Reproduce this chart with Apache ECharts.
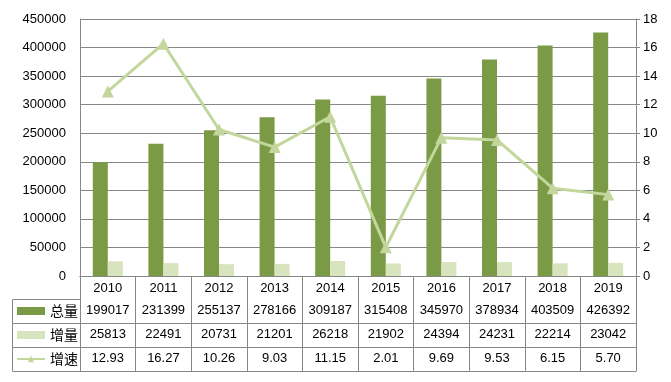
<!DOCTYPE html>
<html><head><meta charset="utf-8">
<script src="https://cdn.jsdelivr.net/npm/echarts@6/dist/echarts.min.js"></script>
<style>html,body{margin:0;padding:0;background:#fff}#c{width:671px;height:382px}</style>
</head><body><div id="c"></div>
<script>
var years = ['2010','2011','2012','2013','2014','2015','2016','2017','2018','2019'];
var total = [199017,231399,255137,278166,309187,315408,345970,378934,403509,426392];
var increase = [25813,22491,20731,21201,26218,21902,24394,24231,22214,23042];
var growth = [12.93,16.27,10.26,9.03,11.15,2.01,9.69,9.53,6.15,5.70];
var growthLabels = ['12.93','16.27','10.26','9.03','11.15','2.01','9.69','9.53','6.15','5.70'];
var leftTicks = [0,50000,100000,150000,200000,250000,300000,350000,400000,450000];
var rightTicks = [0,2,4,6,8,10,12,14,16,18];

var gridC = '#878787';
var numFont = 'Liberation Sans';
var cjk = 'Noto Sans CJK SC';
var chart = echarts.init(document.getElementById('c'));
function tableAxis(offset, arr, showLabel){
  return {
    type:'category', data: years, position:'bottom', offset: offset, gridIndex:0,
    axisLine:{show:true, lineStyle:{color:gridC, width:1}},
    axisTick:{show:false},
    axisLabel:{show:showLabel, interval:0, hideOverlap:false, margin:5, color:'#000', fontSize:13, fontFamily:numFont,
      formatter:function(v,i){return arr ? String(arr[i]) : v;}},
    splitLine:{show:false}
  };
}
var xAxes = [
  {type:'category', data: years, position:'bottom', offset:0,
   axisLine:{show:true, lineStyle:{color:gridC}},
   axisTick:{show:true, length:95, interval:0, lineStyle:{color:gridC}},
   axisLabel:{interval:0, margin:6, color:'#000', fontSize:13, fontFamily:numFont},
   splitLine:{show:false}},
  tableAxis(23, total, true),
  tableAxis(47, increase, true),
  tableAxis(71, growthLabels, true),
  tableAxis(95, null, false)
];
var option = {
  animation:false,
  backgroundColor:'#fff',
  grid:{left:80, right:35, top:19, bottom:106, containLabel:false},
  legend:{
    orient:'vertical', left:16, top:304, padding:0, itemWidth:28, itemHeight:8, itemGap:10,
    textStyle:{fontFamily:cjk, fontSize:14, color:'#000'},
    data:[{name:'总量', icon:'rect'},{name:'增量', icon:'rect'},{name:'增速'}]
  },
  xAxis: xAxes,
  yAxis:[
    {type:'value', min:0, max:450000, interval:50000, position:'left',
     axisLine:{show:true, lineStyle:{color:gridC}}, axisTick:{show:false},
     axisLabel:{margin:14, color:'#000', fontSize:13, fontFamily:numFont, formatter:function(v){return String(v);}},
     splitLine:{show:true, lineStyle:{color:gridC, width:1}}},
    {type:'value', min:0, max:18, interval:2, position:'right',
     axisLine:{show:true, lineStyle:{color:gridC}}, axisTick:{show:true, length:4, lineStyle:{color:gridC}},
     axisLabel:{margin:7, color:'#000', fontSize:13, fontFamily:numFont},
     splitLine:{show:false}}
  ],
  series:[
    {name:'总量', type:'bar', data: total, barWidth:15, barGap:'0%', itemStyle:{color:'#7b9a45'}, yAxisIndex:0},
    {name:'增量', type:'bar', data: increase, barWidth:15, itemStyle:{color:'#d7e4bd'}, yAxisIndex:0},
    {name:'增速', type:'line', data: growth, yAxisIndex:1, symbol:'triangle', symbolSize:12,
     lineStyle:{color:'#c3d69b', width:3}, itemStyle:{color:'#c3d69b'}, z:5}
  ],
  graphic:[
    {type:'line', shape:{x1:12.5,y1:299.5,x2:80,y2:299.5}, style:{stroke:gridC, lineWidth:1}},
    {type:'line', shape:{x1:12.5,y1:323.5,x2:80,y2:323.5}, style:{stroke:gridC, lineWidth:1}},
    {type:'line', shape:{x1:12.5,y1:347.5,x2:80,y2:347.5}, style:{stroke:gridC, lineWidth:1}},
    {type:'line', shape:{x1:12.5,y1:371.5,x2:80,y2:371.5}, style:{stroke:gridC, lineWidth:1}},
    {type:'line', shape:{x1:12.5,y1:299.5,x2:12.5,y2:371.5}, style:{stroke:gridC, lineWidth:1}}
  ]
};
chart.setOption(option);
</script></body></html>
